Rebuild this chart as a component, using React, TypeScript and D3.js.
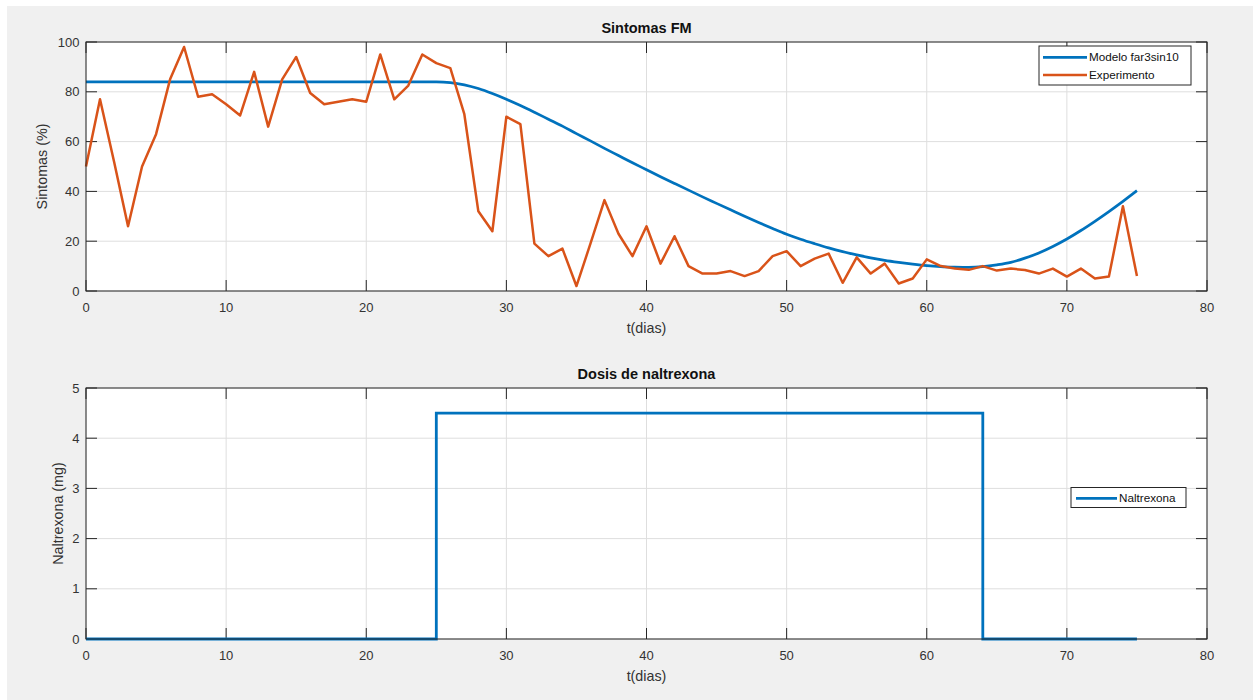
import React from "react";
import * as d3 from "d3";

// ---------- data ----------
const experimento: number[] = [
  50, 77, 52, 26, 50, 63, 85, 98, 78, 79,
  75, 70.5, 88, 66, 85, 94, 79.5, 75, 76, 77,
  76, 95, 77, 82.5, 95, 91.5, 89.5, 71, 32, 24,
  70, 67, 19, 14, 17, 2, 19, 36.5, 23, 14,
  26, 11, 22, 10, 7, 7, 8, 6, 8, 14,
  16, 10, 13, 15, 3.3, 13.5, 7, 11, 3, 5,
  12.7, 10, 9, 8.5, 10, 8.2, 9, 8.4, 7, 9,
  5.8, 9, 5, 5.8, 34, 6,
];

const modeloDays: number[] = [
  0, 25, 26, 27, 28, 29, 30, 31, 32, 33, 34, 35, 36, 37, 38, 39, 40, 41, 42, 43, 44,
  45, 46, 47, 48, 49, 50, 51, 52, 53, 54, 55, 56, 57, 58, 59, 60, 61, 62, 63, 64,
  65, 66, 67, 68, 69, 70, 71, 72, 73, 74, 75,
];
const modeloValues: number[] = [
  84, 84, 83.7, 82.8, 81.3, 79.3, 77, 74.5, 71.8, 69, 66.2, 63.2, 60.3, 57.3, 54.4, 51.5, 48.7, 45.9, 43.2, 40.5, 37.8,
  35.2, 32.6, 30, 27.5, 25.1, 22.8, 20.8, 19, 17.3, 15.8, 14.5, 13.3, 12.3, 11.5, 10.8, 10.2, 9.8, 9.6, 9.5, 9.8,
  10.5, 11.5, 13.2, 15.3, 17.9, 20.9, 24.3, 28, 31.9, 36, 40.3,
];

const doseDays: number[] = [0, 25, 25, 64, 64, 75];
const doseValues: number[] = [0, 0, 4.5, 4.5, 0, 0];

const xTicks: number[] = [0, 10, 20, 30, 40, 50, 60, 70, 80];
const yTicksTop: number[] = [0, 20, 40, 60, 80, 100];
const yTicksBottom: number[] = [0, 1, 2, 3, 4, 5];

// ---------- style ----------
const FONT = "'Liberation Sans', Arial, Helvetica, sans-serif";
const BLUE = "#0072BD";
const ORANGE = "#D95319";
const AXIS = "#262626";
const GRID = "#dedede";
const TEXT = "#333333";

const L = 86;
const R = 1207;

interface PanelProps {
  top: number;
  bottom: number;
  yDomain: [number, number];
  yTicks: number[];
  title: string;
  yLabel: string;
  yLabelX: number;
  children: (x: d3.ScaleLinear<number, number>, y: d3.ScaleLinear<number, number>) => React.ReactNode;
}

function Panel({ top, bottom, yDomain, yTicks, title, yLabel, yLabelX, children }: PanelProps) {
  const x = d3.scaleLinear().domain([0, 80]).range([L, R]);
  const y = d3.scaleLinear().domain(yDomain).range([bottom, top]);
  const tl = 11;
  return (
    <g>
      <rect x={L} y={top} width={R - L} height={bottom - top} fill="#ffffff" />
      {xTicks.map((t) => (
        <line key={"gx" + t} x1={x(t)} x2={x(t)} y1={top} y2={bottom} stroke={GRID} strokeWidth={1} />
      ))}
      {yTicks.map((t) => (
        <line key={"gy" + t} x1={L} x2={R} y1={y(t)} y2={y(t)} stroke={GRID} strokeWidth={1} />
      ))}
      {xTicks.map((t) => (
        <g key={"tx" + t}>
          <line x1={x(t)} x2={x(t)} y1={bottom} y2={bottom - tl} stroke={AXIS} strokeWidth={1} />
          <line x1={x(t)} x2={x(t)} y1={top} y2={top + tl} stroke={AXIS} strokeWidth={1} />
          <text x={x(t)} y={bottom + 21} textAnchor="middle" fontSize={13} fill={TEXT} fontFamily={FONT}>
            {t}
          </text>
        </g>
      ))}
      {yTicks.map((t) => (
        <g key={"ty" + t}>
          <line x1={L} x2={L + tl} y1={y(t)} y2={y(t)} stroke={AXIS} strokeWidth={1} />
          <line x1={R} x2={R - tl} y1={y(t)} y2={y(t)} stroke={AXIS} strokeWidth={1} />
          <text x={79.5} y={y(t)} dy="0.35em" textAnchor="end" fontSize={13} fill={TEXT} fontFamily={FONT}>
            {t}
          </text>
        </g>
      ))}
      {children(x, y)}
      <rect x={L} y={top} width={R - L} height={bottom - top} fill="none" stroke={AXIS} strokeWidth={1} />
      <text x={(L + R) / 2} y={top - 9} textAnchor="middle" fontSize={14.5} fontWeight="bold" fill="#111" fontFamily={FONT}>
        {title}
      </text>
      <text x={(L + R) / 2} y={bottom + 42} textAnchor="middle" fontSize={14.3} fill={TEXT} fontFamily={FONT}>
        t(dias)
      </text>
      <text
        transform={`translate(${yLabelX},${(top + bottom) / 2}) rotate(-90)`}
        textAnchor="middle"
        dy="0.35em"
        fontSize={14.3}
        fill={TEXT}
        fontFamily={FONT}
      >
        {yLabel}
      </text>
    </g>
  );
}

export default function App() {
  const expPts: [number, number][] = experimento.map((v, i) => [i, v]);
  const modPts: [number, number][] = modeloDays.map((d, i) => [d, modeloValues[i]]);
  const dosePts: [number, number][] = doseDays.map((d, i) => [d, doseValues[i]]);

  return (
    <svg
      width={1253}
      height={700}
      style={{ position: "absolute", left: 0, top: 0, display: "block" }}
    >
      <rect x={0} y={0} width={1253} height={700} fill="#ffffff" />
      <rect x={7} y={6} width={1246} height={694} fill="#f0f0f0" />

      <Panel
        top={42}
        bottom={291}
        yDomain={[0, 100]}
        yTicks={yTicksTop}
        title="Sintomas FM"
        yLabel="Sintomas (%)"
        yLabelX={42}
      >
        {(x, y) => {
          const line = d3
            .line<[number, number]>()
            .x((d) => x(d[0]))
            .y((d) => y(d[1]));
          const smooth = d3
            .line<[number, number]>()
            .x((d) => x(d[0]))
            .y((d) => y(d[1]))
            .curve(d3.curveMonotoneX);
          return (
            <g>
              <path d={smooth(modPts) || ""} fill="none" stroke={BLUE} strokeWidth={2.7} strokeLinejoin="round" />
              <path d={line(expPts) || ""} fill="none" stroke={ORANGE} strokeWidth={2.5} strokeLinejoin="round" />
              <g>
                <rect x={1039} y={46} width={152} height={39} fill="#ffffff" stroke={AXIS} strokeWidth={1} />
                <line x1={1043} x2={1087} y1={57.3} y2={57.3} stroke={BLUE} strokeWidth={2.7} />
                <line x1={1043} x2={1087} y1={75} y2={75} stroke={ORANGE} strokeWidth={2.7} />
                <text x={1089} y={57.3} dy="0.35em" fontSize={11.7} fill="#111" fontFamily={FONT}>
                  Modelo far3sin10
                </text>
                <text x={1089} y={75} dy="0.35em" fontSize={11.7} fill="#111" fontFamily={FONT}>
                  Experimento
                </text>
              </g>
            </g>
          );
        }}
      </Panel>

      <Panel
        top={388}
        bottom={639}
        yDomain={[0, 5]}
        yTicks={yTicksBottom}
        title="Dosis de naltrexona"
        yLabel="Naltrexona (mg)"
        yLabelX={58}
      >
        {(x, y) => {
          const line = d3
            .line<[number, number]>()
            .x((d) => x(d[0]))
            .y((d) => y(d[1]));
          return (
            <g>
              <path d={line(dosePts) || ""} fill="none" stroke={BLUE} strokeWidth={2.8} />
              <g>
                <rect x={1071} y={487.5} width={115} height={20} fill="#ffffff" stroke={AXIS} strokeWidth={1} />
                <line x1={1076} x2={1117} y1={498.3} y2={498.3} stroke={BLUE} strokeWidth={2.7} />
                <text x={1119} y={498.3} dy="0.35em" fontSize={11.7} fill="#111" fontFamily={FONT}>
                  Naltrexona
                </text>
              </g>
            </g>
          );
        }}
      </Panel>
    </svg>
  );
}
